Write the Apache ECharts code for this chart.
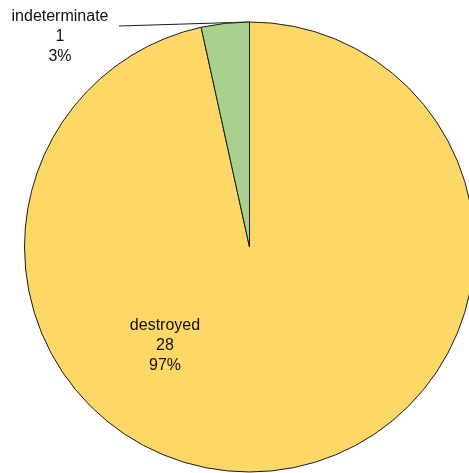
<!DOCTYPE html>
<html>
<head>
<meta charset="utf-8">
<style>
  html, body { margin: 0; padding: 0; background: #ffffff; }
  #chart { width: 469px; height: 473px; }
</style>
<script src="https://cdn.jsdelivr.net/npm/echarts@6/dist/echarts.min.js"></script>
</head>
<body>
<div id="chart"></div>
<script>
// Outcome categories and their counts
const categories = ['destroyed', 'indeterminate'];
const counts = [28, 1];
const sliceColors = ['#FED866', '#A9D18E'];

const total = counts.reduce((a, b) => a + b, 0);

const pieCenter = [249.5, 247];
const pieRadius = 225;

const chart = echarts.init(document.getElementById('chart'), null, { renderer: 'canvas' });

// Where each slice's text block sits (centre of block)
const labelSpots = {
  destroyed: { x: 165, y: 346 },
  indeterminate: { x: 60, y: 37 }
};
// End of the leader line, just right of the outside label
const leaderEnd = [119, 26];

chart.setOption({
  animation: false,
  series: [{
    type: 'pie',
    center: pieCenter,
    radius: [0, pieRadius],
    startAngle: 90,
    clockwise: true,
    avoidLabelOverlap: false,
    itemStyle: { borderColor: '#1a1a1a', borderWidth: 1 },
    label: {
      show: true,
      fontFamily: 'Liberation Sans, Arial, sans-serif',
      fontSize: 16,
      lineHeight: 20,
      color: '#111111',
      align: 'center',
      formatter: p => p.name + '\n' + p.value + '\n' + Math.round(p.value / total * 100) + '%'
    },
    labelLine: {
      show: true,
      lineStyle: { color: '#1a1a1a', width: 1 }
    },
    labelLayout: function (params) {
      const name = categories[params.dataIndex];
      const spot = labelSpots[name];
      const out = {
        x: spot.x,
        y: spot.y,
        align: 'center',
        verticalAlign: 'middle'
      };
      if (name === 'indeterminate') {
        // leader runs from the top of the pie (the slice's closing edge) to the label
        out.labelLinePoints = [[pieCenter[0], pieCenter[1] - pieRadius], leaderEnd];
      }
      return out;
    },
    data: categories.map((name, i) => ({
      name: name,
      value: counts[i],
      itemStyle: { color: sliceColors[i] },
      label: { position: name === 'destroyed' ? 'inside' : 'outside' },
      labelLine: { show: name !== 'destroyed' }
    }))
  }]
});
</script>
</body>
</html>
